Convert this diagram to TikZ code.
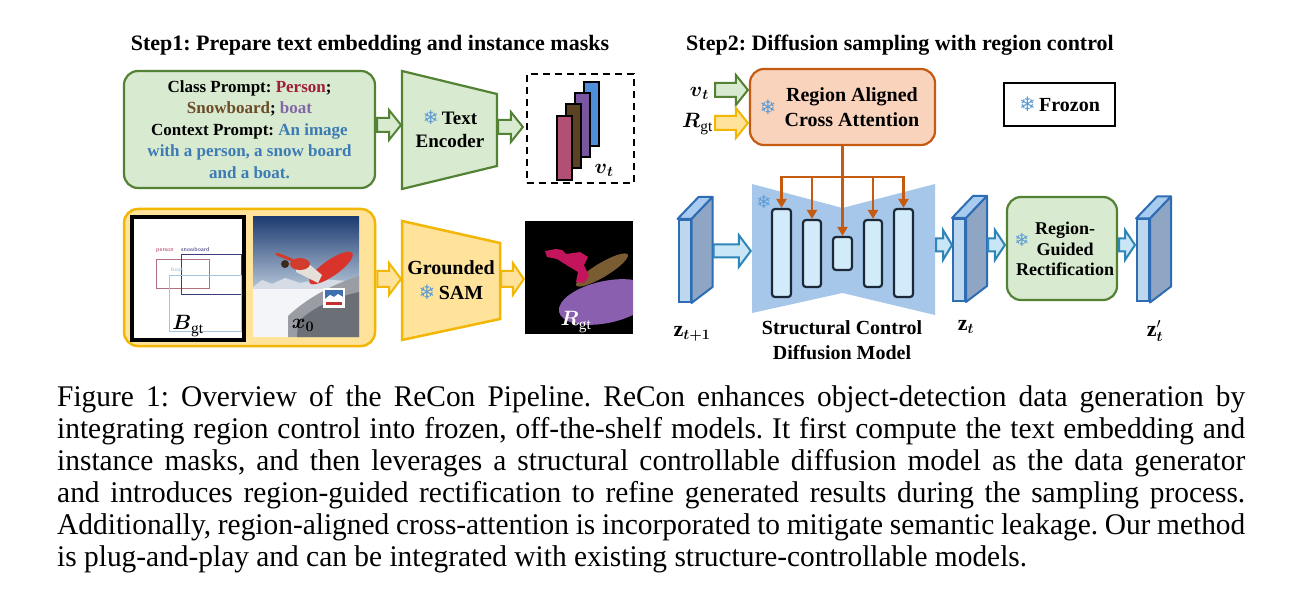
\documentclass[tikz,border=0pt]{standalone}
\usepackage{fontspec}
\usepackage{amsmath}
\setmainfont{Liberation Serif}
\newfontfamily\capfont{Liberation Serif}[FakeStretch=0.98]
\newfontfamily\djv{DejaVu Sans}
\usetikzlibrary{calc,arrows.meta}
\frenchspacing
\definecolor{gfill}{HTML}{D8EACF}
\definecolor{gline}{HTML}{548235}
\definecolor{yfill}{HTML}{FFE39A}
\definecolor{yline}{HTML}{F2B705}
\definecolor{ofill}{HTML}{F9D3BC}
\definecolor{oline}{HTML}{C55A11}
\definecolor{mfill}{HTML}{A7C7EA}
\definecolor{blkfill}{HTML}{D2EBFA}
\definecolor{blkline}{HTML}{1B2838}
\definecolor{afill}{HTML}{C8E6F5}
\definecolor{aline}{HTML}{2D85B8}
\definecolor{snowc}{HTML}{5B9BD5}
\definecolor{slabf}{HTML}{BDD7EE}
\definecolor{slabs}{HTML}{8EA5C3}
\definecolor{slabt}{HTML}{A9CBEF}
\definecolor{slabl}{HTML}{2E6DB4}
\definecolor{cperson}{HTML}{9E1F3A}
\definecolor{csnow}{HTML}{6B4B28}
\definecolor{cboat}{HTML}{8467A8}
\definecolor{cctx}{HTML}{3C7BB5}
\definecolor{barblue}{HTML}{4F8FD8}
\definecolor{barpurple}{HTML}{7A56A0}
\definecolor{barbrown}{HTML}{5B4222}
\definecolor{barpink}{HTML}{B24F74}
\definecolor{mpink}{HTML}{C4155C}
\definecolor{mbrown}{HTML}{7A5C33}
\definecolor{mpurple}{HTML}{8B5FB0}
\definecolor{bbperson}{HTML}{B0707F}
\definecolor{bbsnow}{HTML}{3C3C7D}
\definecolor{bbboat}{HTML}{A8C4DC}
\definecolor{tperson}{HTML}{B03C5A}
\definecolor{tsnow}{HTML}{323278}
\definecolor{tboat}{HTML}{96B9D7}
\definecolor{skytop}{HTML}{1E3C72}
\definecolor{skybot}{HTML}{B8C8DA}
\definecolor{mount}{HTML}{D5DCE5}
\definecolor{snowground}{HTML}{F3F5F8}
\definecolor{hull}{HTML}{9A9EA4}
\definecolor{hulldark}{HTML}{6B6F76}
\definecolor{bannerblue}{HTML}{3F6FB0}
\definecolor{bannerred}{HTML}{C03030}
\definecolor{boardred}{HTML}{D9342C}
\definecolor{pants}{HTML}{E4DFD8}
\definecolor{jacket}{HTML}{D23C2D}
\definecolor{headc}{HTML}{3A2A20}
\newcommand\fs[2]{\fontsize{#1}{#2}\selectfont}
\newcommand\snow{{\djv\color{snowc}\char"2744}}
\newcommand\barrow[6][]{%
  \draw[#1] let \p1=#2, \p2=#3 in
  (\x1,\y1+#4) -- (\x2-#6,\y1+#4) -- (\x2-#6,\y1+#5) -- (\x2,\y1)
  -- (\x2-#6,\y1-#5) -- (\x2-#6,\y1-#4) -- (\x1,\y1-#4) -- cycle;}
\newcommand\slab[3]{%
  \node[slabfront] (#1) at (#2,#3) {};
  \draw[slabedge, fill=slabt] (#1.north west) -- ([shift={(21,-22)}]#1.north west)
     -- ([shift={(21,-22)}]#1.north east) -- (#1.north east) -- cycle;
  \draw[slabedge, fill=slabs] (#1.north east) -- ([shift={(21,-22)}]#1.north east)
     -- ([shift={(21,-16)}]#1.south east) -- (#1.south east) -- cycle;}
\begin{document}
\begin{tikzpicture}[x=1pt,y=-1pt,
  gbox/.style={draw=gline, fill=gfill, line width=2.2pt, rounded corners=14pt},
  ybox/.style={draw=yline, fill=yfill, line width=2.5pt, rounded corners=14pt},
  obox/.style={draw=oline, fill=ofill, line width=2.2pt, rounded corners=14pt},
  gshape/.style={draw=gline, fill=gfill, line width=2.2pt, line join=miter},
  yshape/.style={draw=yline, fill=yfill, line width=2.5pt, line join=miter},
  garrow/.style={draw=gline, fill=gfill, line width=2pt},
  yarrow/.style={draw=yline, fill=yfill, line width=2pt},
  barr/.style={draw=aline, fill=afill, line width=2pt},
  bar/.style={draw=black, line width=2pt},
  blk/.style={draw=blkline, fill=blkfill, line width=2.2pt, rounded corners=3pt, inner sep=0},
  slabfront/.style={draw=slabl, fill=slabf, line width=2pt, minimum width=12pt, minimum height=82pt, inner sep=0},
  slabedge/.style={draw=slabl, line width=2pt, line join=round},
  oconn/.style={draw=oline, line width=2.2pt},
  title/.style={font=\fs{22}{26}\bfseries, anchor=base},
  lab/.style={font=\fs{22}{22}, inner sep=0},
  bblab/.style={font=\fs{6}{6}\sffamily, anchor=base west, inner sep=0},
]
\useasboundingbox (0,0) rectangle (1300,609);
\fill[white] (0,0) rectangle (1300,609);

% titles
\node[title] (t1) at (370,51) {Step1: Prepare text embedding and instance masks};
\node[title] (t2) at (900,51) {Step2: Diffusion sampling with region control};

% ---------- step 1 top ----------
\node[gbox, minimum width=251pt, minimum height=117pt, align=center,
      font=\fs{17}{21.5}\bfseries] (prompt) at (249.5,129.5)
  {Class Prompt: \textcolor{cperson}{Person};\\
   \textcolor{csnow}{Snowboard}; \textcolor{cboat}{boat}\\
   Context Prompt: \textcolor{cctx}{An image}\\
   \textcolor{cctx}{with a person, a snow board}\\
   \textcolor{cctx}{and a boat.}};
\draw[gshape] (402,71) -- (497,94) -- (497,166) -- (402,189) -- cycle;
\coordinate (encL) at (401,125);
\coordinate (encR) at (498,127);
\node[font=\fs{19}{23}\bfseries, align=center] (enc) at (450,129) {\snow\,Text\\Encoder};
\node[draw, dash pattern=on 7pt off 5pt, line width=2.2pt, minimum width=107pt,
      minimum height=109pt, inner sep=0] (vt) at (580.5,128.5) {};
\draw[bar, fill=barblue] (584,82) rectangle (599,146);
\draw[bar, fill=barpurple] (575,93) rectangle (590,157);
\draw[bar, fill=barbrown] (566,104) rectangle (581,168);
\draw[bar, fill=barpink] (557,116) rectangle (572,180);
\node[lab] (vtin) at (604,170) {$\boldsymbol{v}_{\boldsymbol{t}}$};
\barrow[garrow]{([xshift=1pt,yshift=4.5pt]prompt.east)}{(encL)}{7pt}{15pt}{12pt}
\barrow[garrow]{(encR)}{([xshift=-3pt]vt.west)}{7pt}{15pt}{12pt}

% ---------- step 1 bottom ----------
\node[ybox, minimum width=251pt, minimum height=137pt] (imgs) at (249.5,277.5) {};
\node[draw, fill=white, line width=3.5pt, minimum width=112pt, minimum height=123pt,
      inner sep=0] (bgt) at (188,278.5) {};
\begin{scope}
  \clip (133.5,218.5) rectangle (242.5,338.5);
  \draw[bbperson, line width=0.9pt] (156,259) rectangle (209,288);
  \draw[bbsnow, line width=0.9pt] (181,254) rectangle (241,294);
  \draw[bbboat, line width=0.9pt] (169,275) rectangle (241,331);
  \node[bblab, text=tperson] (lperson) at (156,252) {person};
  \node[bblab, text=tsnow] (lsnow) at (181,252) {snowboard};
  \node[bblab, text=tboat] (lboat) at (171,272) {boat};
\end{scope}
\node[lab] (bgtl) at (188,326) {$\boldsymbol{B}_{\mathrm{gt}}$};

\node[inner sep=0, minimum width=106pt, minimum height=120pt] (x0) at (306,277) {};
\begin{scope}
  \clip (253,217) rectangle (359,337);
  \shade[top color=skytop, bottom color=skybot] (253,217) rectangle (359,290);
  \fill[mount] (253,287) -- (262,280) -- (272,284) -- (285,278) -- (300,283) -- (320,279) -- (359,282) -- (359,292) -- (253,292) -- cycle;
  \fill[snowground] (253,289) rectangle (359,337);
  \fill[hull] (288,337) -- (288,316) .. controls (305,300) and (330,285) .. (359,276) -- (359,337) -- cycle;
  \fill[hulldark] (297,337) -- (298,322) .. controls (312,308) and (335,297) .. (359,292) -- (359,337) -- cycle;
  \fill[white] (323,288) rectangle (345,308);
  \fill[bannerblue] (325,290) rectangle (343,299);
  \fill[white] (325,299) -- (330,295) -- (334,297) -- (338,294) -- (343,297) -- (343,300) -- (325,300) -- cycle;
  \fill[bannerred] (326,302) rectangle (342,305);
  \fill[boardred, rotate around={35:(331,268)}] (331,268) ellipse (26 and 8);
  \fill[pants] (296,266) -- (310,265) -- (322,275) -- (318,283) -- (306,277) -- (296,272) -- cycle;
  \fill[jacket] (300,264) ellipse (10 and 6);
  \fill[headc] (285,264) circle (4);
  \draw[jacket, line width=3pt, line cap=round] (292,260) -- (277,254);
\end{scope}
\node[lab] (x0l) at (303,325) {$\boldsymbol{x}_{\boldsymbol{0}}$};

\draw[yshape] (402,221) -- (500,243) -- (500,319) -- (402,340) -- cycle;
\coordinate (samL) at (401,279);
\coordinate (samR) at (501,279);
\node[font=\fs{20}{25}\bfseries, align=center] (sam) at (451,280) {Grounded\\\snow\,SAM};

\node[fill=black, inner sep=0, minimum width=108pt, minimum height=113pt] (rgt) at (579,277.5) {};
\begin{scope}
  \clip (525,221) rectangle (633,334);
  \fill[mpurple, rotate around={12:(606,302)}] (606,302) ellipse (48 and 21);
  \fill[mbrown, rotate around={31:(602,270)}] (602,270) ellipse (30 and 7);
  \fill[mpink] (545,251) -- (556,249) -- (562,250) -- (566,254) -- (580,252) -- (588,257) -- (584,265)
     -- (589,276) -- (584,283) -- (576,282) -- (578,272) -- (568,266) -- (557,259) -- (547,257) -- cycle;
\end{scope}
\node[lab, text=white] (rgtl) at (576,322) {$\boldsymbol{R}_{\mathrm{gt}}$};

\barrow[yarrow]{([xshift=1pt,yshift=-1.5pt]imgs.east)}{(samL)}{8pt}{16pt}{12pt}
\barrow[yarrow]{(samR)}{([xshift=-1pt]rgt.west)}{8pt}{16pt}{11pt}

% ---------- step 2 ----------
\node[lab, anchor=east] (vtl) at (709,93) {$\boldsymbol{v}_{\boldsymbol{t}}$};
\node[lab, anchor=east] (rgl) at (713,124) {$\boldsymbol{R}_{\mathrm{gt}}$};
\node[obox, minimum width=185pt, minimum height=76pt] (rac) at (842.5,107) {};
\node[font=\fs{20}{24.5}\bfseries, align=center] (ractxt) at (852,107) {Region Aligned\\Cross Attention};
\node[font=\fs{20}{20}] (racsnow) at (768,107) {\snow};
\barrow[garrow]{([xshift=6pt,yshift=3pt]vtl.east)}{([xshift=-1pt]rac.west)}{7pt}{15pt}{12pt}
\barrow[yarrow]{([xshift=2pt,yshift=1pt]rgl.east)}{([xshift=-1pt]rac.west)}{7pt}{15pt}{12pt}

\node[draw, line width=2.4pt, minimum width=111pt, minimum height=43pt,
      font=\fs{20}{20}\bfseries] (frozen) at (1059.5,104.5) {\snow\,Frozon};

% diffusion model
\fill[mfill] (752,184) -- (842.5,208) -- (935,184) -- (935,315) -- (842.5,293) -- (752,313) -- cycle;
\node[inner sep=0, minimum width=183pt, minimum height=131pt] (model) at (843.5,249.5) {};
\node[font=\fs{18}{18}] (msnow) at (764,202) {\snow};
\node[blk, minimum width=19pt, minimum height=88pt] (b1) at (781.5,253) {};
\node[blk, minimum width=18pt, minimum height=67pt] (b2) at (812,253.5) {};
\node[blk, minimum width=19pt, minimum height=33pt] (b3) at (842.5,253.5) {};
\node[blk, minimum width=18pt, minimum height=67pt] (b4) at (873,253.5) {};
\node[blk, minimum width=19pt, minimum height=88pt] (b5) at (903.5,253) {};
\node[font=\fs{20}{25}\bfseries, align=center] (mlab) at (842,340) {Structural Control\\Diffusion Model};

\coordinate (bus) at (842.5,177);
\draw[oconn] (rac.south) -- (bus);
\foreach \b in {b1,b2,b4,b5}
  \draw[oconn, -{Triangle[width=10pt,length=9pt]}] (bus) -| (\b.north);
\draw[oconn, -{Triangle[width=10pt,length=9pt]}] (bus) -- (b3.north);

% latents
\slab{zt1}{684.5}{261}
\slab{zt}{959}{260}
\slab{ztp}{1143}{260.5}
\node[lab] (lzt1) at (692,334) {$\mathbf{z}_{\boldsymbol{t+1}}$};
\node[lab] (lzt) at (966,327) {$\mathbf{z}_{\boldsymbol{t}}$};
\node[lab] (lztp) at (1155,331) {$\mathbf{z}'_{\boldsymbol{t}}$};

\node[gbox, minimum width=110pt, minimum height=103pt] (rgr) at (1062,248.5) {};
\node[font=\fs{18}{20.5}\bfseries, align=center] (rgrtxt) at (1065,249) {Region-\\Guided\\Rectification};
\node[font=\fs{18}{18}] (rgrsnow) at (1022,240) {\snow};

\barrow[barr]{([xshift=22pt,yshift=10pt]zt1.east)}{([xshift=-1pt]model.west)}{6.5pt}{16pt}{12pt}
\barrow[barr]{([xshift=1pt,yshift=4.5pt]model.east)}{(zt.west)}{6.5pt}{15pt}{9pt}
\barrow[barr]{([xshift=22pt,yshift=15pt]zt.east)}{([xshift=-1pt]rgr.west)}{6.5pt}{15pt}{10pt}
\barrow[barr]{([xshift=1pt,yshift=3.5pt]rgr.east)}{([xshift=-1pt]ztp.west)}{6.5pt}{15pt}{10pt}

% caption
\node[anchor=north west, inner sep=0, align=left, font=\capfont\fs{30}{32}] (cap) at (57,385.5)
 {\hbox to 1188pt{Figure 1: Overview of the ReCon Pipeline. ReCon enhances object-detection data generation by}\\
  \hbox to 1188pt{integrating region control into frozen, off-the-shelf models. It first compute the text embedding and}\\
  \hbox to 1188pt{instance masks, and then leverages a structural controllable diffusion model as the data generator}\\
  \hbox to 1188pt{and introduces region-guided rectification to refine generated results during the sampling process.}\\
  \hbox to 1188pt{Additionally, region-aligned cross-attention is incorporated to mitigate semantic leakage. Our method}\\
  is plug-and-play and can be integrated with existing structure-controllable models.};
\end{tikzpicture}
\end{document}
